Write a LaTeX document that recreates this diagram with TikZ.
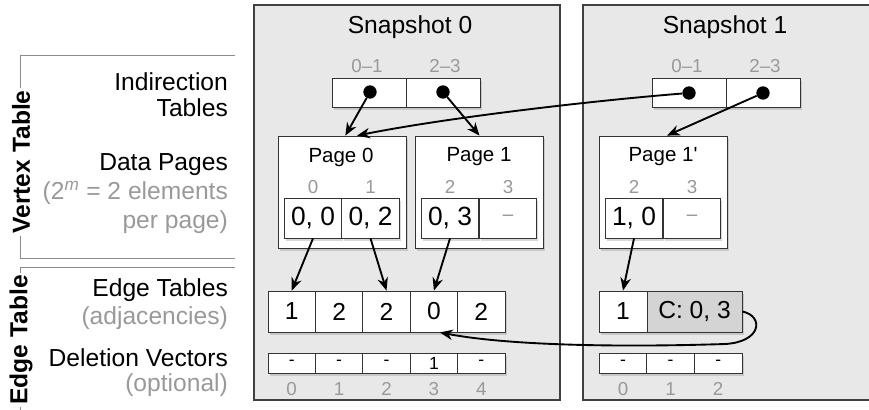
\documentclass[tikz,border=0pt]{standalone}
\usepackage{fontspec}
\setmainfont{Liberation Sans}
\usepackage{tikz}
\usetikzlibrary{positioning, arrows.meta, shadows}

\begin{document}
\begin{tikzpicture}[x=0.03cm, y=-0.03cm, >={Stealth[length=11pt,width=9pt]},
  panel/.style={draw=black!75, fill=black!9, line width=0.9pt},
  bracket/.style={draw=black!45, line width=0.8pt},
  box/.style={draw=black!80, fill=white, line width=0.7pt, inner sep=0pt,
    drop shadow={opacity=0.3, shadow xshift=1.5pt, shadow yshift=-2.5pt}},
  indcell/.style={box, minimum width=2.22cm, minimum height=0.87cm},
  page/.style={box, minimum width=3.84cm, minimum height=3.36cm},
  pagecell/.style={box, minimum width=1.72cm, minimum height=1.2cm, font=\fontsize{22.5}{24}\selectfont},
  edgecell/.style={box, minimum width=1.42cm, minimum height=1.23cm, font=\fontsize{21}{23}\selectfont},
  delcell/.style={box, minimum width=1.42cm, minimum height=0.6cm, font=\fontsize{15}{16}\selectfont},
  dot/.style={circle, fill=black, inner sep=0pt, minimum size=0.4cm},
  lbl/.style={anchor=east, align=right, font=\fontsize{21}{22}\selectfont},
  note/.style={lbl, text=black!40, font=\fontsize{21}{24.5}\selectfont},
  side/.style={rotate=90, fill=white, inner sep=2pt, font=\bfseries\fontsize{21}{23}\selectfont},
  title/.style={font=\fontsize{21}{23}\selectfont},
  idx/.style={text=black!40, font=\fontsize{16}{18}\selectfont},
  ptitle/.style={font=\fontsize{17.5}{19}\selectfont},
  link/.style={->, line width=1.6pt}]
\useasboundingbox (0,0) rectangle (869,409);

% left side labels
\draw[bracket] (235,55) -- (20,55) -- (20,258) -- (235,258);
\draw[bracket] (235,267) -- (20,267) -- (20,415);
\node[side] (vt) at (21,162) {Vertex Table};
\node[side] (et) at (21,340) {Edge Table};
\node[lbl] (lind) at (232,95) {Indirection\\Tables};
\node[lbl] (ldata) at (232,165) {Data Pages};
\node[note] (ldatanote) at (232,207.5) {(2\textsuperscript{\itshape m} = 2 elements\\per page)};
\node[lbl] (ledge) at (232,290) {Edge Tables};
\node[note] (ledgenote) at (232,318) {(adjacencies)};
\node[lbl] (ldel) at (232,358) {Deletion Vectors};
\node[note] (ldelnote) at (232,385) {(optional)};

% snapshot panels
\draw[panel] (254,5) rectangle (560,400);
\draw[panel] (583,5) rectangle (885,400);
\node[title] (s0) at (410,27) {Snapshot 0};
\node[title] (s1) at (725,27) {Snapshot 1};

% indirection tables
\node[indcell] (ind00) at (369.5,92.5) {};
\node[indcell] (ind01) at (443.5,92.5) {};
\node[indcell] (ind10) at (689.5,92.5) {};
\node[indcell] (ind11) at (763.5,92.5) {};
\node[idx] (r00) at (367,66) {0--1};
\node[idx] (r01) at (445,66) {2--3};
\node[idx] (r10) at (687,66) {0--1};
\node[idx] (r11) at (765,66) {2--3};
\node[dot] (d00) at (370,92) {};
\node[dot] (d01) at (443,92) {};
\node[dot] (d10) at (689,93) {};
\node[dot] (d11) at (763,93) {};

% data pages
\node[page] (p0) at (342,192) {};
\node[page] (p1) at (479.5,192) {};
\node[page] (p1p) at (663,192) {};
\node[ptitle] (t0) at (341,157) {Page 0};
\node[ptitle] (t1) at (479,157) {Page 1};
\node[ptitle] (t1p) at (663,157) {Page 1\textquotesingle};
\node[pagecell] (c00) at (313,218) {0, 0};
\node[pagecell] (c01) at (370.5,218) {0, 2};
\node[pagecell] (c10) at (450,218) {0, 3};
\node[pagecell, text=black!45, font=\fontsize{16}{18}\selectfont] (c11) at (508,218) {--};
\node[pagecell] (c20) at (634,218) {1, 0};
\node[pagecell, text=black!45, font=\fontsize{16}{18}\selectfont] (c21) at (692,218) {--};
\node[idx] (i00) at (313,187) {0};
\node[idx] (i01) at (370.5,187) {1};
\node[idx] (i10) at (450,187) {2};
\node[idx] (i11) at (508,187) {3};
\node[idx] (i20) at (634,187) {2};
\node[idx] (i21) at (692,187) {3};

% edge tables and deletion vectors
\foreach \v [count=\i] in {1,2,2,0,2}
  \node[edgecell] (e\i) at (244.3+47.4*\i,311.5) {\v};
\foreach \v [count=\i] in {-,-,-,1,-}
  \node[delcell] (v\i) at (244.3+47.4*\i,363) {\v};
\foreach \i in {0,...,4}
  \node[idx] (n\i) at (291.7+47.4*\i,389) {\i};
\node[edgecell, minimum width=1.44cm] (f1) at (623,311.5) {1};
\node[edgecell, minimum width=2.85cm, fill=black!17] (fc) at (694.5,311.5) {C: 0, 3};
\foreach \v [count=\i] in {-,-,-}
  \node[delcell, minimum width=1.43cm] (w\i) at (575.4+47.6*\i,363) {\v};
\foreach \i in {0,...,2}
  \node[idx] (m\i) at (623+47.6*\i,389) {\i};

% pointers
\draw[link] (d00) -- ([xshift=0.1cm]p0.north);
\draw[link] (d01) -- (p1.north);
\draw[link] (d10) .. controls (600,100) and (450,117) .. ([xshift=0.45cm]p0.north);
\draw[link] (d11) -- ([xshift=0.12cm]p1p.north);
\draw[link] (c00.south) -- (e1.north);
\draw[link] (c01.south) -- (e3.north);
\draw[link] (c10.south) -- (e4.north);
\draw[link] (c20.south) -- (f1.north);
\draw[link] (fc.east) .. controls (764,316) and (762,342) .. (725,344)
  .. controls (600,348) and (500,344) .. ([xshift=0.18cm]e4.south);
\end{tikzpicture}
\end{document}
